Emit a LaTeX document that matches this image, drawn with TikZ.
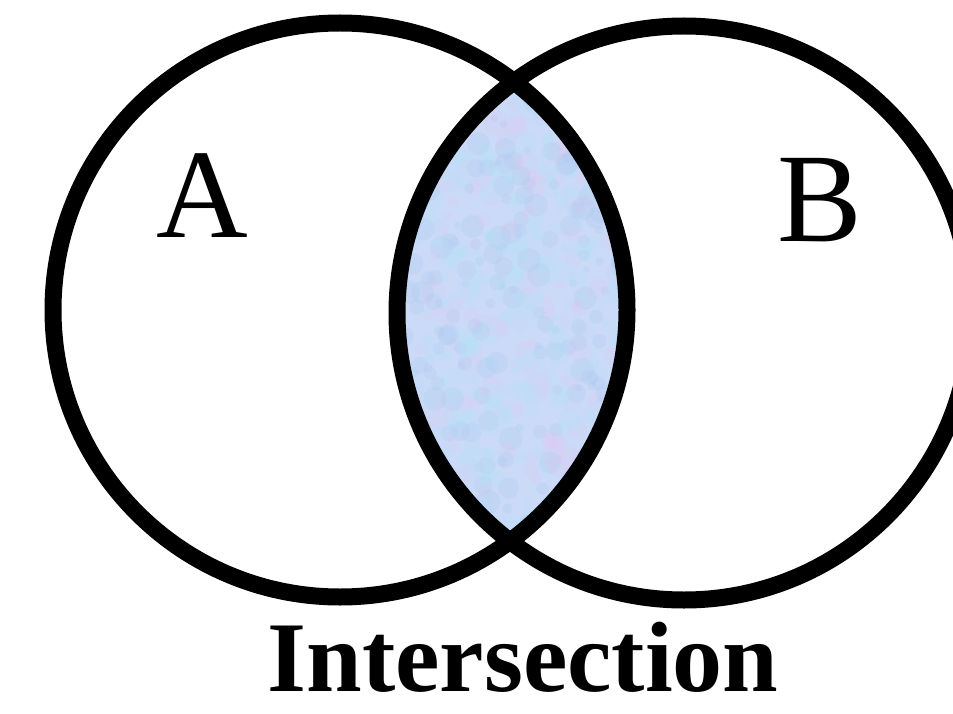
\documentclass[tikz,border=0pt]{standalone}
\usepackage{fontspec}
\setmainfont{Liberation Serif}
\usetikzlibrary{positioning}
\definecolor{lensblue}{RGB}{202,218,247}
\definecolor{lenspink}{RGB}{232,196,240}
\definecolor{lenscyan}{RGB}{178,228,248}
\definecolor{lensdeep}{RGB}{166,194,238}

\begin{document}
\begin{tikzpicture}[x=1pt,y=-1pt,
    setline/.style={line width=17pt,draw=black},
    setlabel/.style={font=\fontsize{127}{127}\selectfont,inner sep=0pt}]
    \useasboundingbox (0,0) rectangle (953,714);
    \coordinate (cA) at (340,310);
    \coordinate (cB) at (684,313);
    % overlap of the two sets
    \begin{scope}
      \clip (cA) circle (287pt);
      \clip (cB) circle (287pt);
      \fill[lensblue] (380,60) rectangle (650,560);
      \pgfmathsetseed{11}
      \foreach \c in {lenspink,lenscyan,lensdeep,lenscyan}
      {
        \foreach \k in {1,...,220}
        {
          \pgfmathsetmacro{\px}{390+rnd*250}
          \pgfmathsetmacro{\py}{70+rnd*480}
          \pgfmathsetmacro{\pr}{3+rnd*9}
          \fill[\c,opacity=0.18] (\px,\py) circle (\pr pt);
        }
      }
    \end{scope}
    \draw[setline] (cA) circle (287pt);
    \draw[setline] (cB) circle (287pt);
    \node[setlabel] (labA) at (202,196) {A};
    \node[setlabel] (labB) at (820,200) {B};
    \node[font=\bfseries\fontsize{100}{100}\selectfont,anchor=base,inner sep=0pt] (labI) at (523,691) {Intersection};
  \end{tikzpicture}
\end{document}
